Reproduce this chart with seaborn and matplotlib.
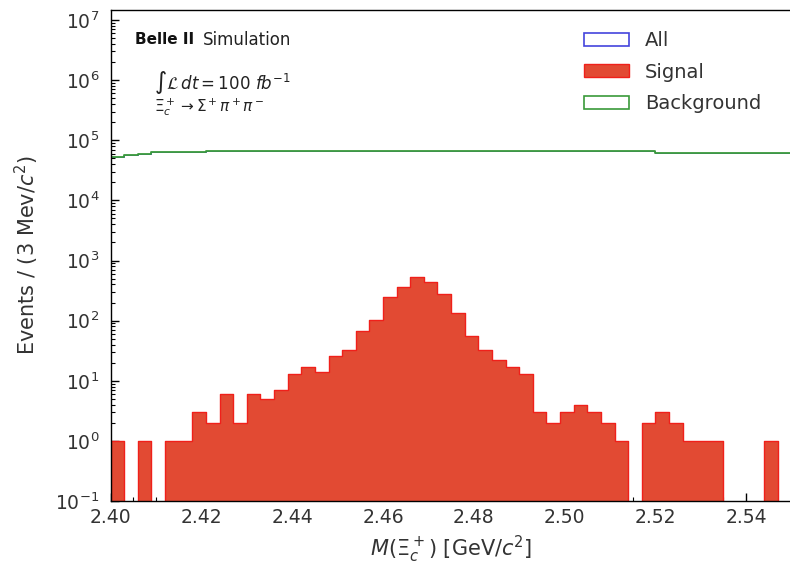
import numpy as np
import pandas as pd
import matplotlib
matplotlib.use("Agg")
import matplotlib.pyplot as plt
from matplotlib.patches import Patch
from matplotlib.ticker import MultipleLocator, LogLocator, NullFormatter
import seaborn as sns

# Invariant-mass binning: 3 MeV bins from 2.40 to 2.55 GeV
bin_lo = 2.40
bin_hi = 2.55
bin_width = 0.003

# Signal counts per bin (50 bins)
signal_counts = [
    1, 0, 1, 0, 1, 1, 3, 2, 6, 2,
    6, 5, 7, 13, 17, 14, 26, 33, 66, 103,
    245, 360, 527, 447, 278, 136, 56, 32, 22, 17,
    13, 3, 2, 3, 4, 3, 2, 1, 0, 2,
    3, 2, 1, 1, 1, 0, 0, 0, 1, 0,
]

# Background counts per bin (50 bins)
background_counts = [
    53500, 56000, 58400, 63000, 63000, 63000, 63000, 66300, 66300, 66300,
    66300, 66300, 66300, 66300, 66300, 66300, 66300, 66300, 66300, 66300,
    66300, 66300, 66300, 66300, 66300, 66300, 66300, 66300, 66300, 66300,
    66300, 66300, 66300, 66300, 66300, 66300, 66300, 66300, 66300, 66300,
    62400, 62400, 62400, 62400, 62400, 62400, 62400, 62400, 62400, 62400,
]

legend_labels = ["All", "Signal", "Background"]
x_ticks = [2.40, 2.42, 2.44, 2.46, 2.48, 2.50, 2.52, 2.54]

n_bins = len(signal_counts)
edges = [round(bin_lo + bin_width * i, 6) for i in range(n_bins + 1)]
centers = [0.5 * (edges[i] + edges[i + 1]) for i in range(n_bins)]
df = pd.DataFrame({
    "mass": centers,
    "signal": signal_counts,
    "background": background_counts,
})
df["all"] = df["signal"] + df["background"]

sns.set_style("ticks")
plt.rcParams["font.family"] = ["DejaVu Sans"]

c_sig = "#E24A33"
c_sig_edge = "#F0201A"
c_all = "#4444DD"
c_bkg = "#3A9A3A"
txt = "#333333"

fig = plt.figure(figsize=(7.9, 5.72), dpi=100)
ax = fig.add_axes([0.140, 0.1241, 0.862, 0.8585])

sns.histplot(data=df, x="mass", weights="signal", bins=edges, element="step",
             fill=True, color=c_sig, edgecolor=c_sig_edge, alpha=1.0,
             linewidth=1.0, ax=ax)
sns.histplot(data=df, x="mass", weights="all", bins=edges, element="step",
             fill=False, color=c_all, linewidth=0.6, ax=ax)
sns.histplot(data=df, x="mass", weights="background", bins=edges,
             element="step", fill=False, color=c_bkg, linewidth=1.3, ax=ax)

ax.set_yscale("log")
ax.set_ylim(0.1, 1.47e7)
ax.set_xlim(bin_lo, bin_hi)

ax.set_xticks(x_ticks)
ax.set_xticklabels([f"{t:.2f}" for t in x_ticks])
ax.xaxis.set_minor_locator(MultipleLocator(0.005))
ax.yaxis.set_major_locator(LogLocator(base=10, numticks=20))
ax.yaxis.set_minor_locator(LogLocator(base=10, subs=np.arange(2, 10), numticks=20))
ax.yaxis.set_minor_formatter(NullFormatter())

ax.tick_params(axis="both", which="both", direction="in", top=False,
               right=False, colors="black", labelcolor=txt)
ax.tick_params(axis="both", which="major", length=6, width=1.0,
               labelsize=13.5)
ax.tick_params(axis="y", which="major", pad=8)
ax.tick_params(axis="x", which="major", pad=5)
ax.tick_params(axis="both", which="minor", length=3, width=0.8)
for s in ax.spines.values():
    s.set_color("black")
    s.set_linewidth(1.0)

ax.set_xlabel(r"$M(\Xi_c^+)$ [GeV/$c^2$]", fontsize=15, color=txt,
              labelpad=5)
ax.set_ylabel(r"Events / (3 Mev/$c^2$)", fontsize=15, color=txt,
              labelpad=10)

# Experiment tag and conditions
ax.text(0.036, 0.939, "Belle II", transform=ax.transAxes, fontsize=11,
        fontweight="bold", color="#111111", va="center", ha="left")
ax.text(0.135, 0.939, "Simulation", transform=ax.transAxes, fontsize=12,
        color="#222222", va="center", ha="left")
ax.text(0.063, 0.852, r"$\int\mathcal{L}\,dt = 100\ fb^{-1}$",
        transform=ax.transAxes, fontsize=12, color="#222222",
        va="center", ha="left")
ax.text(0.063, 0.802, r"$\Xi_c^+ \rightarrow \Sigma^+\pi^+\pi^-$",
        transform=ax.transAxes, fontsize=11, color="#222222",
        va="center", ha="left")

handles = [
    Patch(facecolor="none", edgecolor=c_all, linewidth=1.2),
    Patch(facecolor=c_sig, edgecolor=c_sig_edge, linewidth=1.0),
    Patch(facecolor="none", edgecolor=c_bkg, linewidth=1.2),
]
leg = ax.legend(handles, legend_labels, loc="upper left",
                bbox_to_anchor=(0.695, 0.957), frameon=False, fontsize=14,
                handlelength=2.3, handleheight=0.65, handletextpad=0.85,
                labelspacing=0.65, borderpad=0, borderaxespad=0)
for t in leg.get_texts():
    t.set_color(txt)

fig.savefig("out.png", dpi=100)
